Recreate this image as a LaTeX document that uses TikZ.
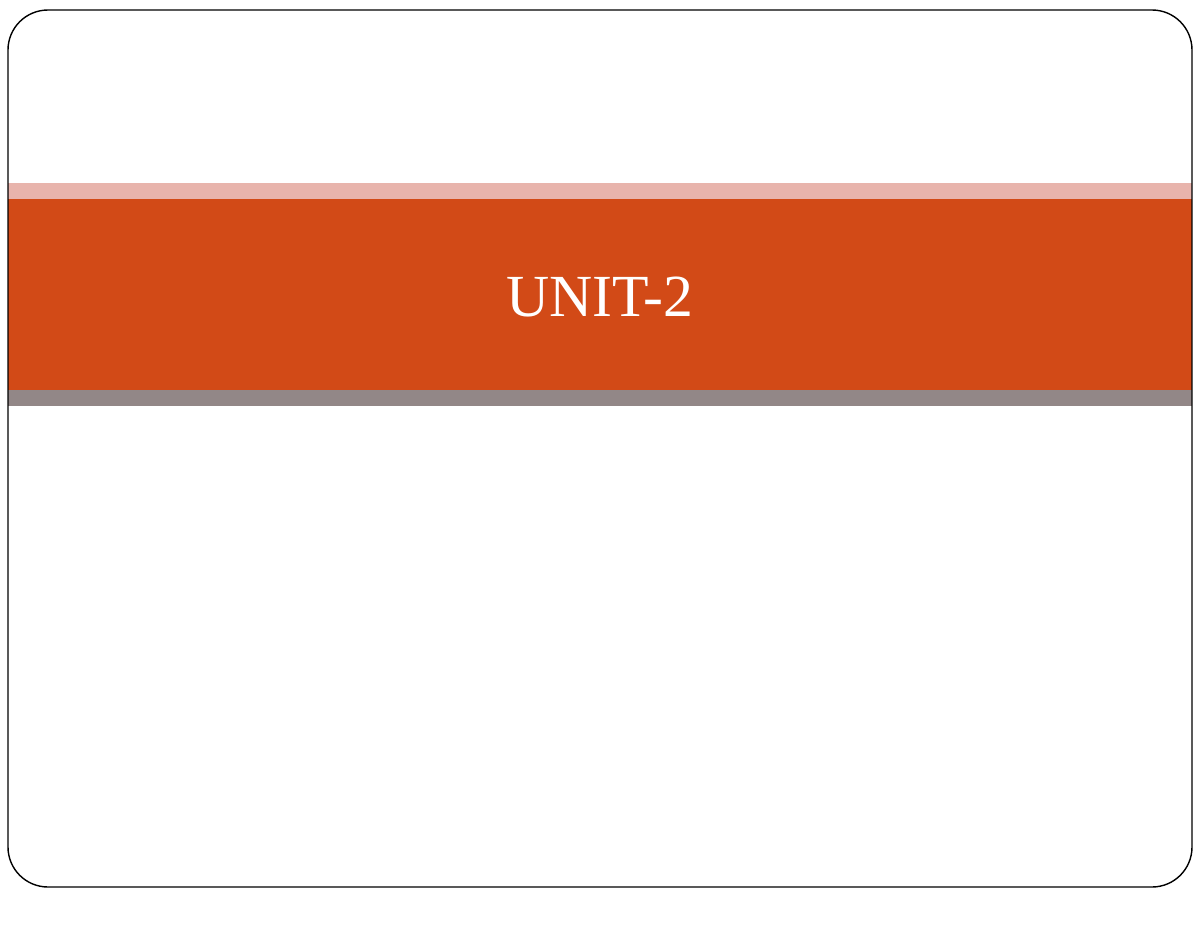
\documentclass[tikz,border=0pt]{standalone}
\usepackage{fontspec}
\setmainfont{Liberation Serif}
\definecolor{pinkband}{HTML}{E8B4AC}
\definecolor{orangeband}{HTML}{D24A17}
\definecolor{grayband}{HTML}{928787}
\begin{document}
\begin{tikzpicture}[x=0.02cm,y=-0.02cm]
\useasboundingbox (0,0) rectangle (1200,927);
\fill[white] (0,0) rectangle (1200,927);
\fill[pinkband] (8,183) rectangle (1192,199);
\fill[orangeband] (8,199) rectangle (1192,390);
\fill[grayband] (8,390) rectangle (1192,406);
\draw[black, line width=0.8pt, rounded corners=0.8cm] (8,10) rectangle (1192,887);
\node[text=white, font=\fontsize{34}{40}\selectfont] (title) at (600,297) {UNIT-2};
\end{tikzpicture}
\end{document}
